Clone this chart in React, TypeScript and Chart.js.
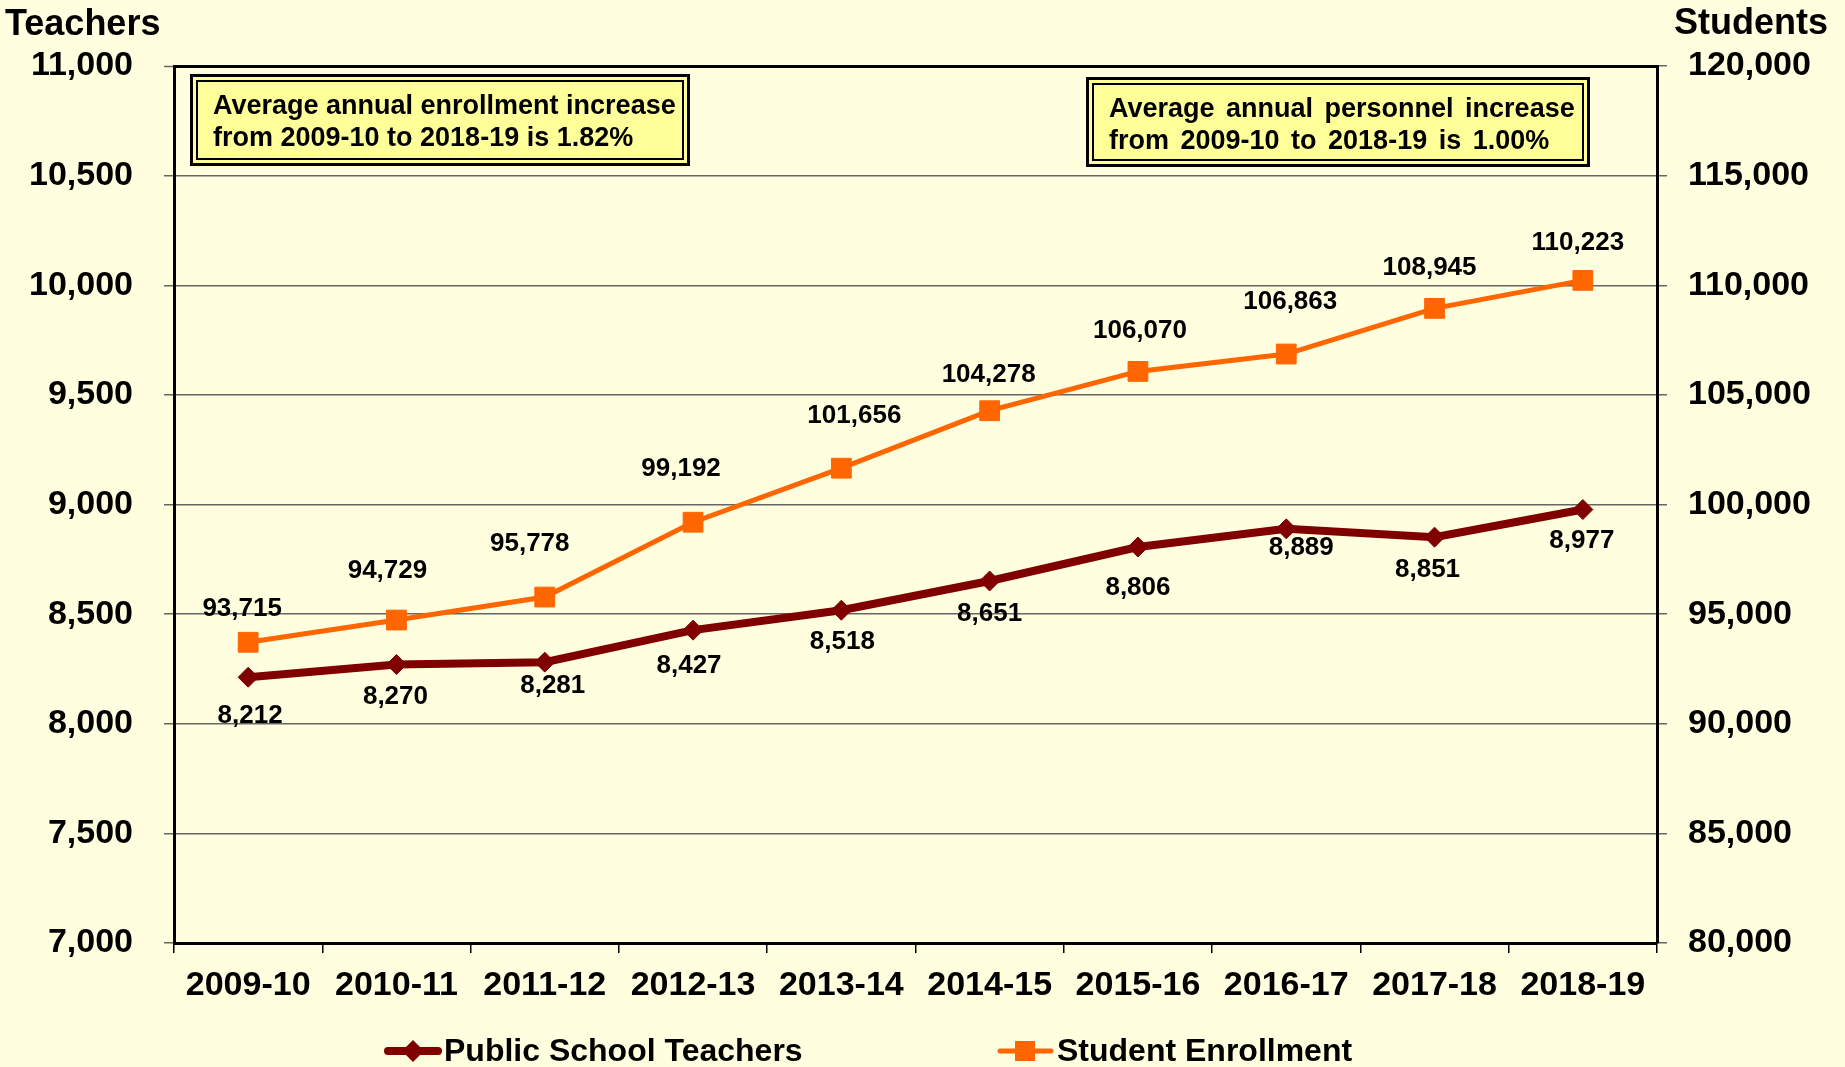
import React, { useEffect, useRef } from 'react';
import { Chart, registerables } from 'chart.js';

Chart.register(...registerables);

// ---------- data ----------
const categories = ['2009-10', '2010-11', '2011-12', '2012-13', '2013-14', '2014-15', '2015-16', '2016-17', '2017-18', '2018-19'];
const teacherValues = [8212, 8270, 8281, 8427, 8518, 8651, 8806, 8889, 8851, 8977];
const studentValues = [93715, 94729, 95778, 99192, 101656, 104278, 106070, 106863, 108945, 110223];
const teacherAxis = { min: 7000, max: 11000, step: 500 };
const studentAxis = { min: 80000, max: 120000, step: 5000 };
const seriesNames = ['Public School Teachers', 'Student Enrollment'];
const axisTitles = ['Teachers', 'Students'];
const enrollmentNote = ['Average annual enrollment increase', 'from 2009-10 to 2018-19 is 1.82%'];
const personnelNote = ['Average annual personnel increase', 'from 2009-10 to 2018-19 is 1.00%'];

// label nudges (px) relative to each point, as placed in the original
const teacherLabelNudge = [[2, 39], [-1, 32], [8, 24], [-4, 36], [1, 32], [0, 33], [0, 41], [15, 19], [-7, 33], [-1, 31]];
const studentLabelNudge = [[-6, -33], [-9, -49], [-15, -53], [-12, -53], [13, -52], [-1, -36], [2, -41], [4, -52], [-5, -41], [-5, -38]];

// ---------- styles ----------
const FONT = 'Arial, "Liberation Sans", Helvetica, sans-serif';
const BG = '#FFFFE0';
const TEACHER_COLOR = '#800000';
const STUDENT_COLOR = '#FF6600';
const NOTE_FILL = '#FFFF99';
const GRID = '#666666';

const fmt = (v: number) => Number(v).toLocaleString('en-US');

function drawNoteBox(ctx: CanvasRenderingContext2D, x: number, y: number, w: number, h: number, lines: string[], spacing: number) {
  ctx.save();
  ctx.fillStyle = NOTE_FILL;
  ctx.fillRect(x, y, w, h);
  ctx.strokeStyle = '#000';
  ctx.lineWidth = 3;
  ctx.strokeRect(x + 1.5, y + 1.5, w - 3, h - 3);
  ctx.lineWidth = 2;
  ctx.strokeRect(x + 7, y + 7, w - 14, h - 14);
  ctx.fillStyle = '#000';
  ctx.font = `bold 27px ${FONT}`;
  ctx.textAlign = 'left';
  ctx.textBaseline = 'alphabetic';
  (ctx as any).wordSpacing = `${spacing}px`;
  ctx.fillText(lines[0], x + 23, y + 40);
  ctx.fillText(lines[1], x + 23, y + 72);
  (ctx as any).wordSpacing = '0px';
  ctx.restore();
}

const decorPlugin = {
  id: 'decor',
  afterDatasetsDraw(chart: any) {
    const ctx: CanvasRenderingContext2D = chart.ctx;
    ctx.save();
    ctx.font = `bold 26px ${FONT}`;
    ctx.fillStyle = '#000';
    ctx.textAlign = 'center';
    ctx.textBaseline = 'middle';
    const metaT = chart.getDatasetMeta(0);
    const metaS = chart.getDatasetMeta(1);
    metaT.data.forEach((pt: any, i: number) => {
      const [dx, dy] = teacherLabelNudge[i];
      ctx.fillText(fmt(teacherValues[i]), pt.x + dx, pt.y + dy);
    });
    metaS.data.forEach((pt: any, i: number) => {
      const [dx, dy] = studentLabelNudge[i];
      ctx.fillText(fmt(studentValues[i]), pt.x + dx, pt.y + dy);
    });
    ctx.restore();
  },
  afterDraw(chart: any) {
    const ctx: CanvasRenderingContext2D = chart.ctx;
    const area = chart.chartArea;
    ctx.save();
    // axis titles
    ctx.fillStyle = '#000';
    ctx.font = `bold 36px ${FONT}`;
    ctx.textBaseline = 'alphabetic';
    ctx.textAlign = 'left';
    ctx.fillText(axisTitles[0], 5, 35);
    ctx.textAlign = 'right';
    ctx.fillText(axisTitles[1], 1828, 34);

    // notes
    drawNoteBox(ctx, area.left + 16, area.top + 8, 500, 92, enrollmentNote, 0);
    drawNoteBox(ctx, 1086, area.top + 11, 504, 90, personnelNote, 4);

    // legend
    const ly = 1051;
    const ds = chart.data.datasets;
    // teachers
    ctx.lineCap = 'round';
    ctx.strokeStyle = ds[0].borderColor;
    ctx.lineWidth = ds[0].borderWidth;
    ctx.beginPath();
    ctx.moveTo(388, ly);
    ctx.lineTo(438, ly);
    ctx.stroke();
    ctx.fillStyle = ds[0].borderColor;
    ctx.beginPath();
    ctx.moveTo(413 - 11, ly);
    ctx.lineTo(413, ly - 11);
    ctx.lineTo(413 + 11, ly);
    ctx.lineTo(413, ly + 11);
    ctx.closePath();
    ctx.fill();
    // students
    ctx.strokeStyle = ds[1].borderColor;
    ctx.lineWidth = ds[1].borderWidth;
    ctx.beginPath();
    ctx.moveTo(1000, ly);
    ctx.lineTo(1051, ly);
    ctx.stroke();
    ctx.fillStyle = ds[1].borderColor;
    ctx.fillRect(1025 - 10, ly - 10, 20, 20);

    ctx.fillStyle = '#000';
    ctx.font = `bold 32px ${FONT}`;
    ctx.textAlign = 'left';
    ctx.textBaseline = 'middle';
    ctx.fillText(seriesNames[0], 444, ly + 1);
    ctx.fillText(seriesNames[1], 1057, ly + 1);
    ctx.restore();
  },
};

export default function App() {
  const ref = useRef<HTMLCanvasElement>(null);

  useEffect(() => {
    const tickFont = { family: FONT, size: 34, weight: 'bold' as const };
    const chart = new Chart(ref.current as HTMLCanvasElement, {
      type: 'line',
      data: {
        labels: categories,
        datasets: [
          {
            label: seriesNames[0],
            data: teacherValues,
            yAxisID: 'y',
            borderColor: TEACHER_COLOR,
            backgroundColor: TEACHER_COLOR,
            borderWidth: 8,
            pointStyle: 'rectRot',
            pointRadius: 10,
            pointBorderWidth: 1,
            pointBackgroundColor: TEACHER_COLOR,
            pointBorderColor: TEACHER_COLOR,
            tension: 0,
            fill: false,
          },
          {
            label: seriesNames[1],
            data: studentValues,
            yAxisID: 'y1',
            borderColor: STUDENT_COLOR,
            backgroundColor: STUDENT_COLOR,
            borderWidth: 5,
            pointStyle: 'rect',
            pointRadius: 14,
            pointBorderWidth: 1,
            pointBackgroundColor: STUDENT_COLOR,
            pointBorderColor: STUDENT_COLOR,
            tension: 0,
            fill: false,
          },
        ],
      },
      options: {
        responsive: false,
        devicePixelRatio: 1,
        animation: false,
        events: [],
        layout: { padding: { top: 66, left: 0, right: 0, bottom: 0 } },
        plugins: {
          legend: { display: false },
          title: { display: false },
          tooltip: { enabled: false },
        },
        scales: {
          x: {
            type: 'category',
            position: 'bottom',
            offset: true,
            grid: {
              offset: true,
              drawOnChartArea: false,
              drawTicks: true,
              tickLength: 10,
              color: '#000',
              lineWidth: 1.5,
            },
            border: { display: true, color: '#000', width: 3 },
            ticks: { font: tickFont, color: '#000', padding: 12, maxRotation: 0, autoSkip: false },
            afterFit: (scale: any) => { scale.height = 124; },
          },
          y: {
            type: 'linear',
            position: 'left',
            min: teacherAxis.min,
            max: teacherAxis.max,
            grid: {
              color: (c: any) => (c.tick && c.tick.value === teacherAxis.max ? '#000' : GRID),
              lineWidth: (c: any) => (c.tick && c.tick.value === teacherAxis.max ? 3 : 1.5),
              tickColor: GRID,
              tickLength: 10,
              tickWidth: 1.5,
            },
            border: { display: true, color: '#000', width: 3 },
            ticks: {
              stepSize: teacherAxis.step,
              font: tickFont,
              color: '#000',
              padding: 31,
              callback: (v: any) => fmt(v),
            },
            afterFit: (scale: any) => { scale.width = 174; },
          },
          y1: {
            type: 'linear',
            position: 'right',
            min: studentAxis.min,
            max: studentAxis.max,
            grid: {
              drawOnChartArea: false,
              color: GRID,
              tickLength: 10,
              lineWidth: 1.5,
            },
            border: { display: true, color: '#000', width: 3 },
            ticks: {
              stepSize: studentAxis.step,
              font: tickFont,
              color: '#000',
              padding: 21,
              callback: (v: any) => fmt(v),
            },
            afterFit: (scale: any) => { scale.width = 188; },
          },
        },
      },
      plugins: [decorPlugin],
    } as any);
    return () => chart.destroy();
  }, []);

  return (
    <div style={{ position: 'fixed', left: 0, top: 0, width: 1845, height: 1067, background: BG }}>
      <canvas ref={ref} width={1845} height={1067} style={{ display: 'block', width: 1845, height: 1067 }} />
    </div>
  );
}
